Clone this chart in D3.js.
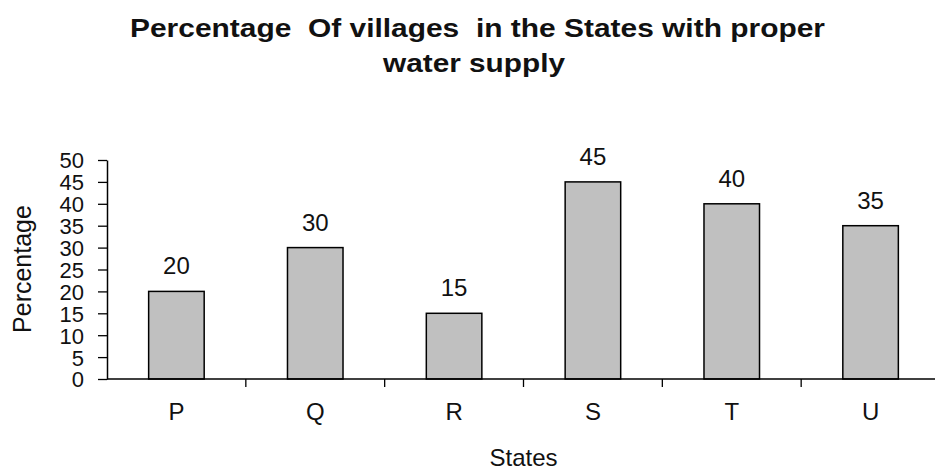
<!DOCTYPE html>
<html>
<head>
<meta charset="utf-8">
<script src="https://cdn.jsdelivr.net/npm/d3@7"></script>
<style>
body { margin: 0; background: #fff; }
text { font-family: Arial, "Liberation Sans", sans-serif; fill: #111; }
</style>
</head>
<body>
<script>
var w = 935;
var h = 470;

var states = ["P", "Q", "R", "S", "T", "U"];
var values = [20, 30, 15, 45, 40, 35];
var yTicks = [0, 5, 10, 15, 20, 25, 30, 35, 40, 45, 50];

var padLeft = 107, padRight = 940, padTop = 160, padBottom = 379;

var xScale = d3.scaleBand()
    .domain(states)
    .range([padLeft, padRight])
    .paddingInner(0.6)
    .paddingOuter(0.3);

var yScale = d3.scaleLinear()
    .domain([0, 50])
    .range([padBottom, padTop]);

var svg = d3.select("body")
    .append("svg")
    .attr("width", w)
    .attr("height", h);

// title (two lines)
svg.append("text")
    .attr("x", 130)
    .attr("y", 37)
    .attr("font-size", "26px")
    .attr("font-weight", "bold")
    .attr("textLength", 695)
    .attr("lengthAdjust", "spacingAndGlyphs")
    .style("white-space", "pre")
    .text("Percentage  Of villages  in the States with proper");
svg.append("text")
    .attr("x", 383)
    .attr("y", 72)
    .attr("font-size", "26px")
    .attr("font-weight", "bold")
    .attr("textLength", 182)
    .attr("lengthAdjust", "spacingAndGlyphs")
    .text("water supply");

// bars
svg.selectAll("rect.bar")
    .data(values)
    .enter()
    .append("rect")
    .attr("class", "bar")
    .attr("x", function(d, i){ return xScale(states[i]); })
    .attr("y", function(d){ return yScale(d); })
    .attr("width", xScale.bandwidth())
    .attr("height", function(d){ return yScale(0) - yScale(d); })
    .attr("fill", "#c0c0c0")
    .attr("stroke", "#000")
    .attr("stroke-width", 1.5);

svg.selectAll("text.val")
    .data(values)
    .enter()
    .append("text")
    .attr("class", "val")
    .attr("x", function(d, i){ return xScale(states[i]) + xScale.bandwidth() / 2; })
    .attr("y", function(d){ return yScale(d) - 17; })
    .attr("text-anchor", "middle")
    .attr("font-size", "24px")
    .text(function(d){ return d; });

// y axis
var yAxis = d3.axisLeft(yScale)
    .tickValues(yTicks)
    .tickSize(9)
    .tickSizeOuter(0);
var gy = svg.append("g")
    .attr("transform", "translate(" + padLeft + ",0)")
    .call(yAxis);
gy.select(".domain").attr("stroke", "#000").attr("stroke-width", 1.5);
gy.selectAll(".tick line").attr("stroke", "#000").attr("stroke-width", 1.3);
gy.selectAll(".tick text")
    .attr("font-size", "22px")
    .attr("font-family", "Arial, 'Liberation Sans', sans-serif")
    .attr("fill", "#111")
    .attr("x", -23)
    .attr("dy", "0.36em");

// x axis line
svg.append("line")
    .attr("x1", padLeft)
    .attr("x2", 935)
    .attr("y1", padBottom)
    .attr("y2", padBottom)
    .attr("stroke", "#000")
    .attr("stroke-width", 1.5);

// x ticks between categories
var step = xScale.step();
var bounds = states.slice(1).map(function(s){ return xScale(s) - (step - xScale.bandwidth()) / 2; });
svg.selectAll("line.xt")
    .data(bounds)
    .enter()
    .append("line")
    .attr("class", "xt")
    .attr("x1", function(d){ return d; })
    .attr("x2", function(d){ return d; })
    .attr("y1", padBottom)
    .attr("y2", padBottom + 8)
    .attr("stroke", "#000")
    .attr("stroke-width", 1.3);

svg.selectAll("text.cat")
    .data(states)
    .enter()
    .append("text")
    .attr("class", "cat")
    .attr("x", function(d){ return xScale(d) + xScale.bandwidth() / 2; })
    .attr("y", 420)
    .attr("text-anchor", "middle")
    .attr("font-size", "24px")
    .text(function(d){ return d; });

// axis titles
svg.append("text")
    .attr("x", (padLeft + padRight) / 2)
    .attr("y", 466)
    .attr("text-anchor", "middle")
    .attr("font-size", "24px")
    .text("States");

svg.append("text")
    .attr("transform", "translate(31,269) rotate(-90)")
    .attr("text-anchor", "middle")
    .attr("font-size", "25px")
    .text("Percentage");
</script>
</body>
</html>
